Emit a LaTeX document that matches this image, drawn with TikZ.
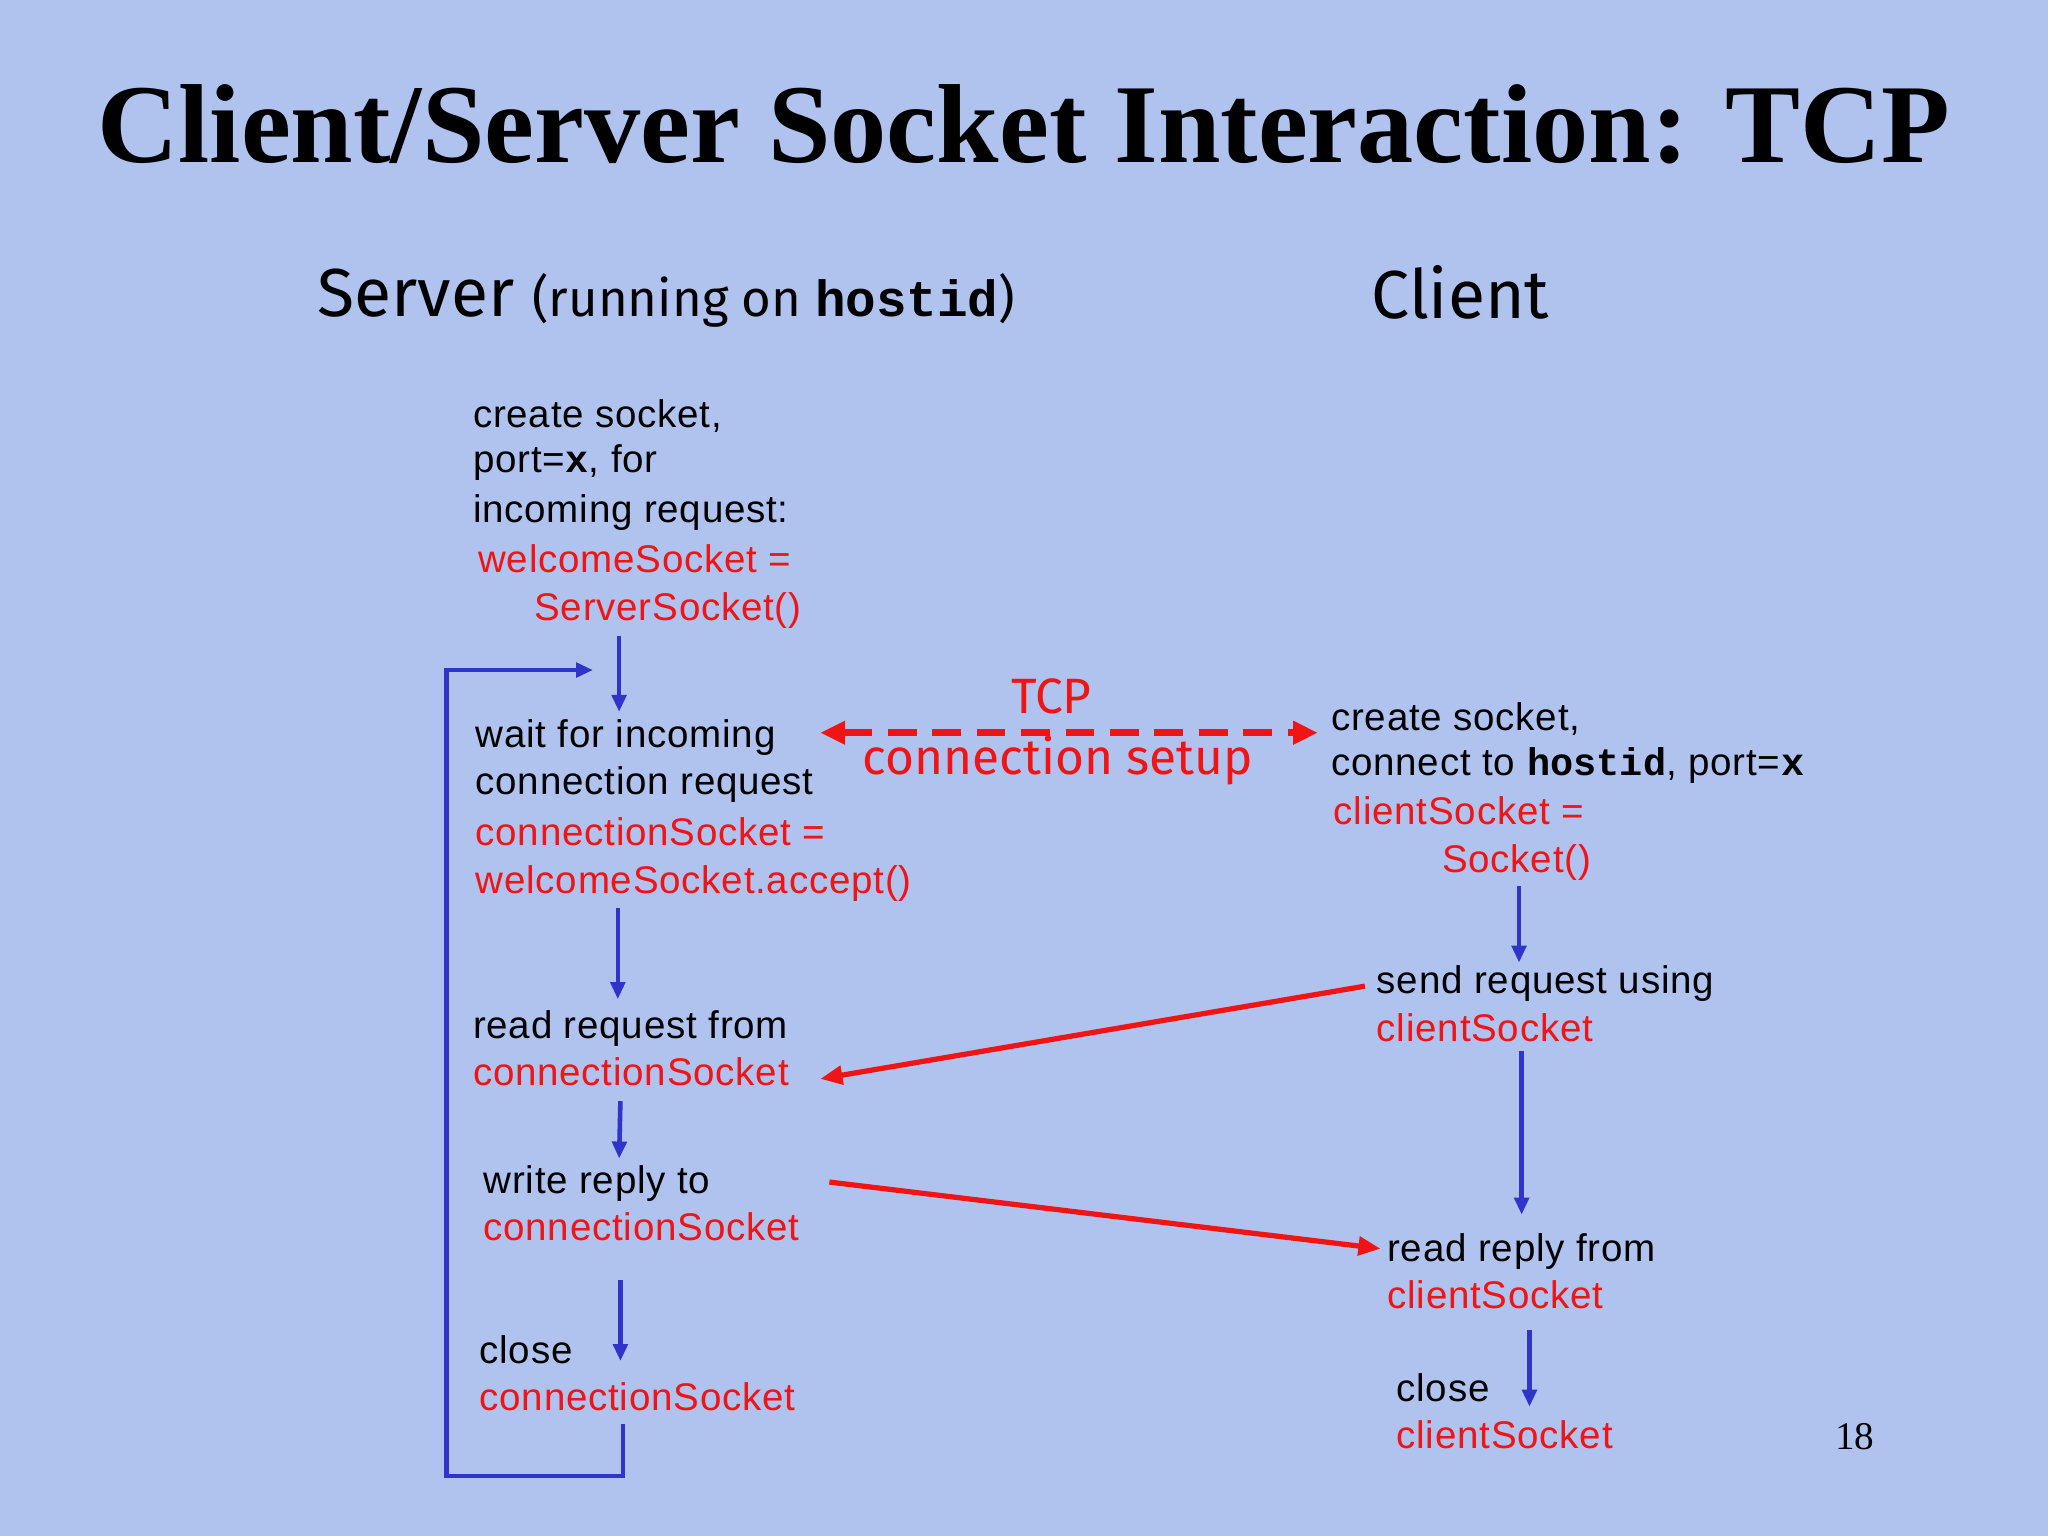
\documentclass[tikz,border=0pt]{standalone}
\usepackage{fontspec}
\setmainfont{Liberation Sans}[LetterSpace=2]
\newfontfamily\ttl{Liberation Serif}
\newfontfamily\cmc{Fira Sans}
\newfontfamily\mon{Liberation Mono}
\usetikzlibrary{arrows.meta}
\definecolor{bg}{RGB}{176,194,238}
\definecolor{blu}{RGB}{48,52,200}
\definecolor{rd}{RGB}{240,20,20}
\begin{document}
\begin{tikzpicture}[x=1pt,y=-1pt,
 t/.style={anchor=base west,inner sep=0pt,font=\fontsize{29.5}{30}\selectfont},
 r/.style={t,text=rd},
 ba/.style={draw=blu,line width=3.5pt,-{Triangle[length=13pt,width=11pt]}},
 ra/.style={draw=rd,line width=4pt,-{Triangle[length=17pt,width=14pt]}}]
\useasboundingbox (0,0) rectangle (1568,1176);
\fill[bg] (0,0) rectangle (1568,1176);
\node[anchor=center,font=\ttl\bfseries\fontsize{86}{90}\selectfont] (title) at (784,95) {Client/Server Socket Interaction: TCP};
\node[anchor=base west,inner sep=0pt,font=\cmc] (srv) at (243,242) {\fontsize{52}{54}\selectfont Server\ \fontsize{39}{40}\selectfont(running on\ {\mon\bfseries hostid})};
\node[anchor=base west,inner sep=0pt,font=\cmc\fontsize{52}{54}\selectfont] (cli) at (1050,244) {Client};
% server
\node[t] (s1) at (362,327) {create socket,};
\node[t] (s2) at (362,362) {port=\textbf{\mon x}, for};
\node[t] (s3) at (362,400) {incoming request:};
\node[r] (s4) at (366,438) {welcomeSocket =};
\node[r] (s5) at (409,475) {ServerSocket()};
\node[t] (w1) at (364,572) {wait for incoming};
\node[t] (w2) at (364,608) {connection request};
\node[r] (w3) at (364,647) {connectionSocket =};
\node[r] (w4) at (364,684) {welcomeSocket.accept()};
\node[t] (rr1) at (362,795) {read request from};
\node[r] (rr2) at (362,831) {connectionSocket};
\node[t] (wr1) at (370,914) {write reply to};
\node[r] (wr2) at (370,950) {connectionSocket};
\node[t] (c1) at (367,1044) {close};
\node[r] (c2) at (367,1080) {connectionSocket};
% client
\node[t] (k1) at (1019,559) {create socket,};
\node[t] (k2) at (1019,594) {connect to \textbf{\mon hostid}, port=\textbf{\mon x}};
\node[r] (k3) at (1021,631) {clientSocket =};
\node[r] (k4) at (1104,668) {Socket()};
\node[t] (q1) at (1054,761) {send request using};
\node[r] (q2) at (1054,797) {clientSocket};
\node[t] (p1) at (1062,966) {read reply from};
\node[r] (p2) at (1062,1002) {clientSocket};
\node[t] (z1) at (1069,1073) {close};
\node[r] (z2) at (1069,1109) {clientSocket};
\node[anchor=center,text=rd,font=\cmc\fontsize{38}{38}\selectfont] (tcp) at (805,533) {TCP};
\node[anchor=center,text=rd,font=\cmc\fontsize{38}{38}\selectfont] (cs) at (810,582) {connection setup};
\node[anchor=center,font=\ttl\fontsize{30}{32}\selectfont] (pg) at (1420,1100) {18};
% coordinates
\coordinate (a1) at (474,487); \coordinate (a1e) at (474,545);
\coordinate (a2) at (473,695); \coordinate (a2e) at (473,765);
\coordinate (a3) at (475,843); \coordinate (a3e) at (474,887);
\coordinate (a4) at (475,980); \coordinate (a4e) at (475,1042);
\coordinate (b1) at (1163,678); \coordinate (b1e) at (1163,737);
\coordinate (b2) at (1165,805); \coordinate (b2e) at (1165,930);
\coordinate (b3) at (1171,1018); \coordinate (b3e) at (1171,1077);
\coordinate (l0) at (477,1090); \coordinate (l1) at (477,1130);
\coordinate (l2) at (342,1130); \coordinate (l3) at (342,513); \coordinate (l4) at (454,513);
\draw[ba] (a1)--(a1e); \draw[ba] (a2)--(a2e); \draw[ba] (a3)--(a3e); \draw[ba] (a4)--(a4e);
\draw[ba] (b1)--(b1e); \draw[ba] (b2)--(b2e); \draw[ba] (b3)--(b3e);
\draw[ba] (l0)--(l1)--(l2)--(l3)--(l4);
\coordinate (d1) at (628,561); \coordinate (d2) at (1009,561);
\draw[draw=rd,line width=5pt,dash pattern=on 22pt off 12pt,{Triangle[length=19pt,width=17pt]}-{Triangle[length=19pt,width=17pt]}] (d1)--(d2);
\coordinate (e1) at (1045,755); \coordinate (e2) at (628,826);
\draw[ra] (e1)--(e2);
\coordinate (f1) at (635,905); \coordinate (f2) at (1057,956);
\draw[ra] (f1)--(f2);
\end{tikzpicture}
\end{document}
